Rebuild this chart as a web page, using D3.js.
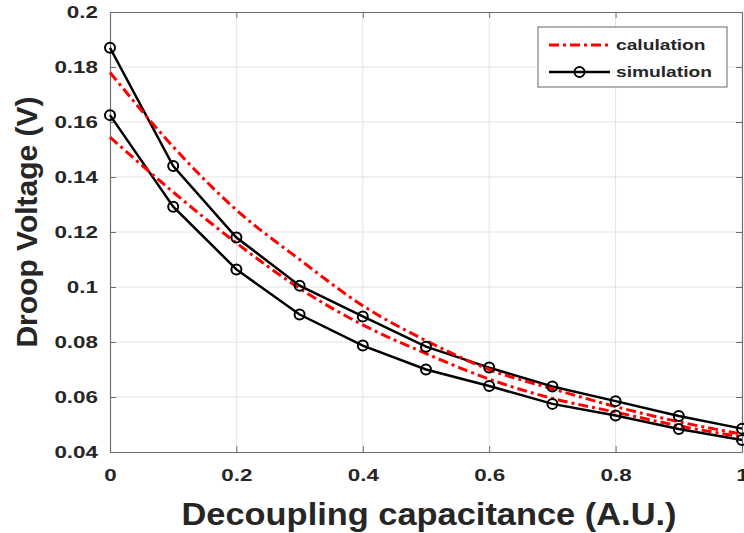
<!DOCTYPE html>
<html>
<head>
<meta charset="utf-8">
<script src="https://cdn.jsdelivr.net/npm/d3@7"></script>
<style>
  body { margin: 0; background: #fff; }
  svg { font-family: "Liberation Sans", Arial, sans-serif; }
  .tick text { font-weight: bold; font-size: 16px; fill: #262626; }
  .axis path, .axis line { stroke: #6e6e6e; }
</style>
</head>
<body>
<div id="chart"></div>
<script>
// x positions (A.U.)
const xVals = [0, 0.1, 0.2, 0.3, 0.4, 0.5, 0.6, 0.7, 0.8, 0.9, 1.0];

// simulation (black, circle markers)
const simHigh = [0.187, 0.144, 0.118, 0.1005, 0.0893, 0.0783, 0.0707, 0.0638, 0.0585, 0.0531, 0.0485];
const simLow = [0.1625, 0.1292, 0.1064, 0.090, 0.0787, 0.070, 0.064, 0.0575, 0.0533, 0.0484, 0.0444];

// calculation (red dash-dot)
const calcHigh = [0.178, 0.151, 0.128, 0.110, 0.0932, 0.0805, 0.0700, 0.0630, 0.0565, 0.0510, 0.0465];
const calcLow = [0.1545, 0.1345, 0.1160, 0.0995, 0.0862, 0.0758, 0.0665, 0.0595, 0.0545, 0.0495, 0.0455];

const xTicks = [0, 0.2, 0.4, 0.6, 0.8, 1];
const yTicks = [0.04, 0.06, 0.08, 0.1, 0.12, 0.14, 0.16, 0.18, 0.2];

const legendLabels = ['calulation', 'simulation'];

const width = 744, height = 533;
const margin = { top: 12, right: 2, bottom: 81, left: 110 };
const innerW = width - margin.left - margin.right;
const innerH = height - margin.top - margin.bottom;
const stretch = 1.4; // tick labels in the picture are drawn wide

const svg = d3.select('#chart').append('svg')
    .attr('width', width)
    .attr('height', height);

const g = svg.append('g')
    .attr('transform', `translate(${margin.left},${margin.top})`);

const x = d3.scaleLinear().domain([0, 1]).range([0, innerW]);
const y = d3.scaleLinear().domain([0.04, 0.2]).range([innerH, 0]);

// grid
g.append('g').selectAll('line')
    .data(xTicks.slice(1, -1))
    .join('line')
    .attr('x1', d => x(d)).attr('x2', d => x(d))
    .attr('y1', 0).attr('y2', innerH)
    .attr('stroke', '#e3e3e3').attr('stroke-width', 1);

g.append('g').selectAll('line')
    .data(yTicks.slice(1, -1))
    .join('line')
    .attr('x1', 0).attr('x2', innerW)
    .attr('y1', d => y(d)).attr('y2', d => y(d))
    .attr('stroke', '#e3e3e3').attr('stroke-width', 1);

// axes (box style with inward ticks)
const fmt = d => String(+d.toFixed(2));

const xAxisG = g.append('g').attr('class', 'axis')
    .attr('transform', `translate(0,${innerH})`)
    .call(d3.axisBottom(x).tickValues(xTicks).tickFormat(fmt).tickSizeInner(-6).tickSizeOuter(0).tickPadding(18));
xAxisG.selectAll('.tick text')
    .attr('transform', function () { return `translate(0,${d3.select(this).attr('y')}) scale(${stretch},1)`; })
    .attr('y', 0);

const yAxisG = g.append('g').attr('class', 'axis')
    .call(d3.axisLeft(y).tickValues(yTicks).tickFormat(fmt).tickSizeInner(-6).tickSizeOuter(0));
yAxisG.selectAll('.tick text')
    .attr('x', 0)
    .attr('transform', `translate(-12,0) scale(${stretch},1)`);

g.append('g').attr('class', 'axis')
    .call(d3.axisTop(x).tickValues(xTicks).tickFormat('').tickSizeInner(-6).tickSizeOuter(0));

g.append('g').attr('class', 'axis')
    .attr('transform', `translate(${innerW},0)`)
    .call(d3.axisRight(y).tickValues(yTicks).tickFormat('').tickSizeInner(-6).tickSizeOuter(0));

g.selectAll('.axis path').attr('stroke-width', 1.2);

// lines
const line = d3.line()
    .x((d, i) => x(xVals[i]))
    .y(d => y(d));
const smooth = d3.line()
    .x((d, i) => x(xVals[i]))
    .y(d => y(d))
    .curve(d3.curveMonotoneX);

[simHigh, simLow].forEach(s => {
    g.append('path')
        .datum(s)
        .attr('d', line)
        .attr('fill', 'none')
        .attr('stroke', '#000')
        .attr('stroke-width', 2.5);
});

[calcHigh, calcLow].forEach(s => {
    g.append('path')
        .datum(s)
        .attr('d', smooth)
        .attr('fill', 'none')
        .attr('stroke', '#ff0000')
        .attr('stroke-width', 3)
        .attr('stroke-dasharray', '10,4,3,4');
});

[simHigh, simLow].forEach(s => {
    g.append('g').selectAll('circle')
        .data(s)
        .join('circle')
        .attr('cx', (d, i) => x(xVals[i]))
        .attr('cy', d => y(d))
        .attr('r', 5)
        .attr('fill', 'none')
        .attr('stroke', '#000')
        .attr('stroke-width', 2);
});

// axis titles
svg.append('text')
    .attr('x', 429)
    .attr('y', 525)
    .attr('text-anchor', 'middle')
    .attr('font-size', 31)
    .attr('font-weight', 'bold')
    .attr('fill', '#262626')
    .attr('textLength', 495)
    .attr('lengthAdjust', 'spacingAndGlyphs')
    .text('Decoupling capacitance (A.U.)');

svg.append('text')
    .attr('transform', 'translate(37,222) rotate(-90)')
    .attr('text-anchor', 'middle')
    .attr('font-size', 30)
    .attr('font-weight', 'bold')
    .attr('fill', '#262626')
    .text('Droop Voltage (V)');

// legend
const lg = svg.append('g').attr('transform', 'translate(538,27)');
lg.append('rect')
    .attr('width', 189).attr('height', 60)
    .attr('fill', '#fff')
    .attr('stroke', '#666').attr('stroke-width', 1);

lg.append('line')
    .attr('x1', 11).attr('x2', 72).attr('y1', 18).attr('y2', 18)
    .attr('stroke', '#ff0000').attr('stroke-width', 3)
    .attr('stroke-dasharray', '10,4,3,4');

lg.append('line')
    .attr('x1', 11).attr('x2', 72).attr('y1', 45).attr('y2', 45)
    .attr('stroke', '#000').attr('stroke-width', 2.5);
lg.append('circle')
    .attr('cx', 41.5).attr('cy', 45).attr('r', 5)
    .attr('fill', 'none').attr('stroke', '#000').attr('stroke-width', 2);

lg.selectAll('text')
    .data(legendLabels)
    .join('text')
    .attr('transform', (d, i) => `translate(78,${18 + i * 27}) scale(1.28,1)`)
    .attr('dy', '0.35em')
    .attr('font-size', 15)
    .attr('font-weight', 'bold')
    .attr('fill', '#262626')
    .text(d => d);
</script>
</body>
</html>
